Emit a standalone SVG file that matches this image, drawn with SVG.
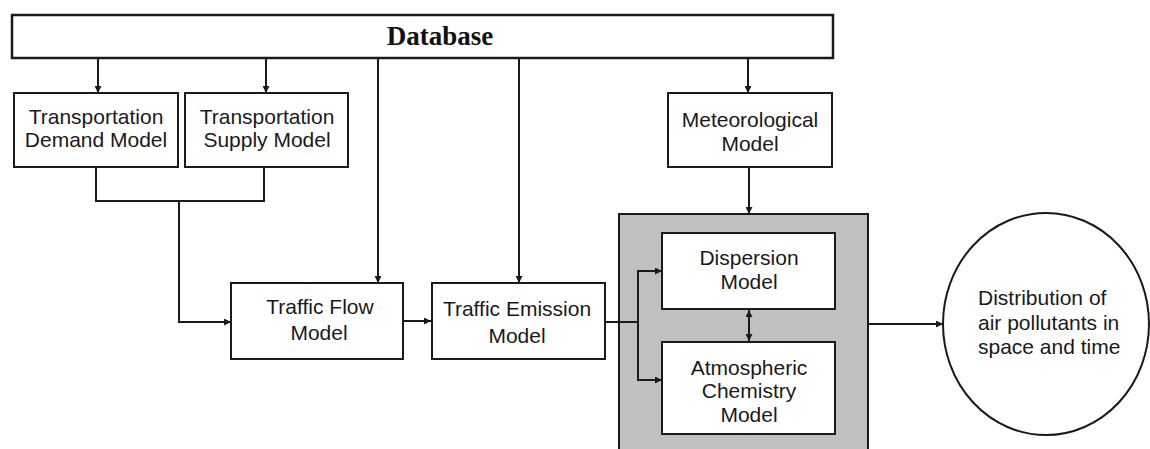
<svg xmlns="http://www.w3.org/2000/svg" width="1150" height="449" viewBox="0 0 1150 449">
<style>
.box{fill:#fff;stroke:#1a1a1a;stroke-width:2}
.db{fill:#fff;stroke:#1a1a1a;stroke-width:2.5}
.gray{fill:#c0c0c0;stroke:#1a1a1a;stroke-width:2}
.t{font-family:"Liberation Sans",Arial,sans-serif;font-size:21px;fill:#1a1a1a;text-anchor:middle}
.tl{font-family:"Liberation Sans",Arial,sans-serif;font-size:21px;fill:#1a1a1a}
.dbt{font-family:"Liberation Serif","Times New Roman",serif;font-size:27px;font-weight:bold;fill:#111;text-anchor:middle}
.c{fill:none;stroke:#1a1a1a;stroke-width:2}
.a{marker-end:url(#arr)}
.b{marker-start:url(#arr);marker-end:url(#arr)}
</style>
<defs>
<marker id="arr" viewBox="0 0 7 7" refX="7" refY="3.5" markerWidth="7" markerHeight="7" markerUnits="userSpaceOnUse" orient="auto-start-reverse">
<path d="M0,0 L7,3.5 L0,7 z" fill="#1a1a1a"/>
</marker>
</defs>
<rect width="1150" height="449" fill="#fff"/>

<g id="gray-container">
<rect class="gray" x="619" y="214" width="249" height="250"/>
</g>

<g id="connectors">
<line class="c a" x1="98" y1="58" x2="98" y2="93"/>
<line class="c a" x1="266" y1="58" x2="266" y2="93"/>
<line class="c a" x1="378" y1="58" x2="378" y2="283"/>
<line class="c a" x1="519" y1="58" x2="519" y2="283"/>
<line class="c a" x1="748" y1="58" x2="748" y2="93"/>
<polyline class="c" points="96,167 96,201 264,201 264,167"/>
<polyline class="c a" points="179,201 179,322 231,322"/>
<line class="c a" x1="403" y1="321" x2="431" y2="321"/>
<line class="c a" x1="749" y1="167" x2="749" y2="214"/>
<line class="c" x1="605" y1="322" x2="638" y2="322"/>
<polyline class="c a" points="638,322 638,271 662,271"/>
<polyline class="c a" points="638,322 638,380 662,380"/>
<line class="c b" x1="749" y1="310" x2="749" y2="341"/>
<line class="c a" x1="868" y1="324" x2="943" y2="324"/>
</g>

<g id="database">
<rect class="db" x="12" y="15" width="821" height="43"/>
<text class="dbt" x="440" y="45">Database</text>
</g>

<g id="transportation-demand">
<rect class="box" x="14" y="93" width="164" height="74"/>
<text class="t" x="96" y="124">Transportation</text>
<text class="t" x="96" y="147">Demand Model</text>
</g>

<g id="transportation-supply">
<rect class="box" x="185" y="93" width="163" height="74"/>
<text class="t" x="267" y="124">Transportation</text>
<text class="t" x="267" y="147">Supply Model</text>
</g>

<g id="meteorological">
<rect class="box" x="668" y="93" width="164" height="74"/>
<text class="t" x="750" y="127">Meteorological</text>
<text class="t" x="750" y="151">Model</text>
</g>

<g id="traffic-flow">
<rect class="box" x="231" y="283" width="172" height="76"/>
<text class="t" x="320" y="314">Traffic Flow</text>
<text class="t" x="319" y="340">Model</text>
</g>

<g id="traffic-emission">
<rect class="box" x="432" y="283" width="173" height="76"/>
<text class="t" x="517" y="316">Traffic Emission</text>
<text class="t" x="517" y="343">Model</text>
</g>

<g id="dispersion">
<rect class="box" x="662" y="233" width="173" height="76"/>
<text class="t" x="749" y="265">Dispersion</text>
<text class="t" x="749" y="289">Model</text>
</g>

<g id="atmospheric-chemistry">
<rect class="box" x="662" y="342" width="173" height="92"/>
<text class="t" x="749" y="375">Atmospheric</text>
<text class="t" x="749" y="398">Chemistry</text>
<text class="t" x="749" y="422">Model</text>
</g>

<g id="distribution">
<ellipse class="box" cx="1046" cy="324" rx="103" ry="111"/>
<text class="tl" x="978" y="305">Distribution of</text>
<text class="tl" x="978" y="330">air pollutants in</text>
<text class="tl" x="978" y="354">space and time</text>
</g>
</svg>
